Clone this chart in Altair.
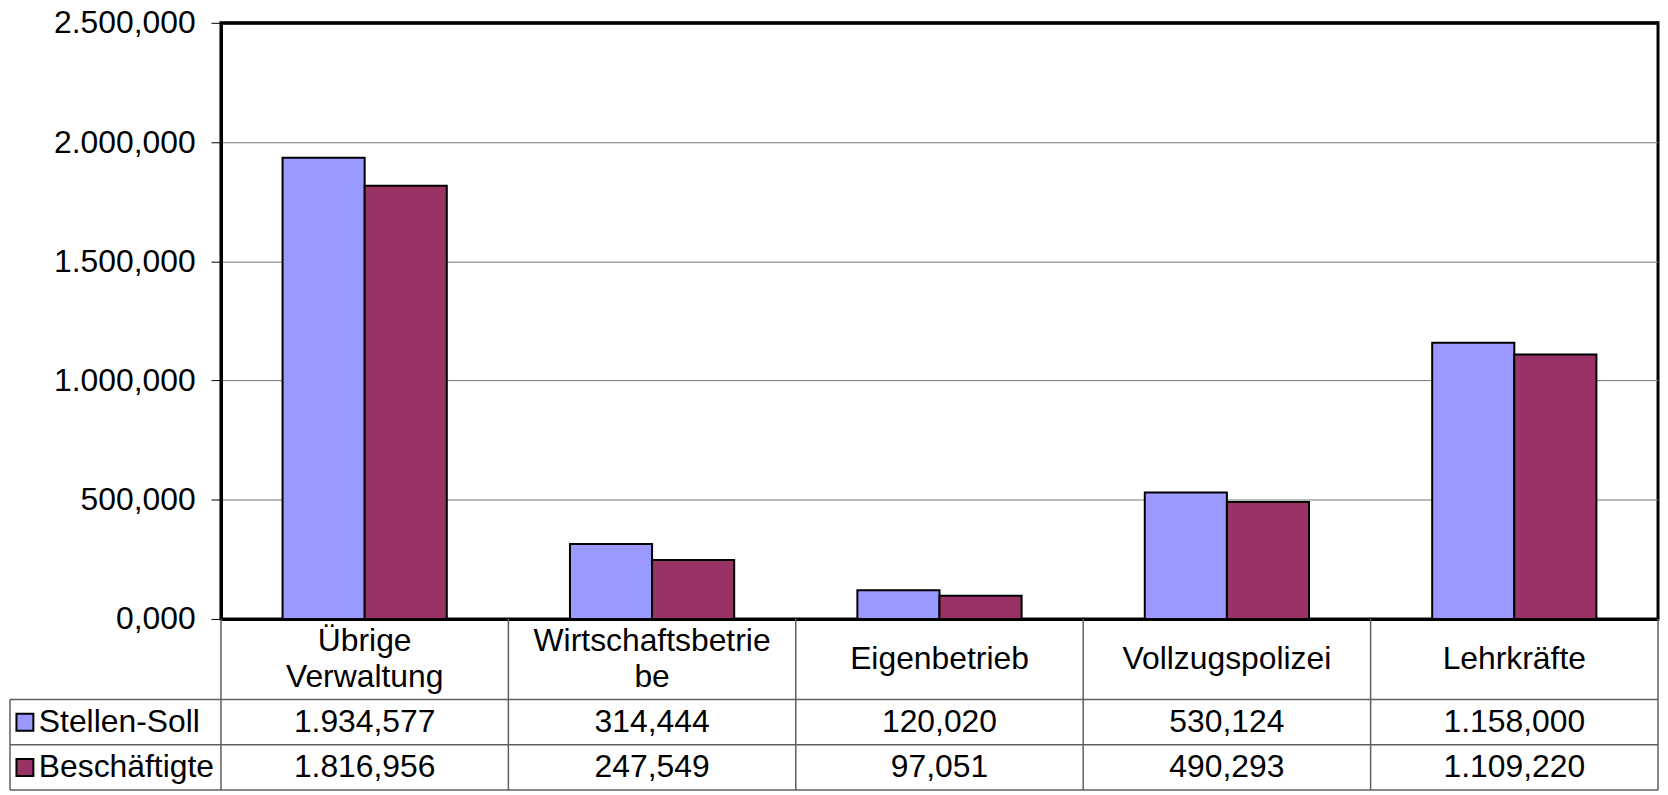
import altair as alt
import pandas as pd

# ---------------- data ----------------
categories = ["Übrige Verwaltung", "Wirtschaftsbetriebe", "Eigenbetrieb",
              "Vollzugspolizei", "Lehrkräfte"]
category_labels = ["Übrige\nVerwaltung", "Wirtschaftsbetrie\nbe", "Eigenbetrieb",
                   "Vollzugspolizei", "Lehrkräfte"]
series = ["Stellen-Soll", "Beschäftigte"]
stellen_soll = [1934.577, 314.444, 120.020, 530.124, 1158.000]
beschaeftigte = [1816.956, 247.549, 97.051, 490.293, 1109.220]
colors = ["#9999FF", "#993366"]
y_ticks = [0, 500, 1000, 1500, 2000, 2500]

# ---------------- layout constants ----------------
FONT = "Liberation Sans"
FS = 32
LH = 36
PLOT_W, PLOT_H = 1444, 599
LEG_W, TABLE_H = 212, 172
HEADER_H = 1.78            # header row height, in table-row units
ROWS_TOTAL = HEADER_H + 2
LINE = "#5f5f5f"
GRID = "#767676"

GER = "replace(replace(replace(format({v}, ',.3f'), ',', '_'), '.', ','), '_', '.')"

rows = []
for i, c in enumerate(categories):
    for s, vals in zip(series, [stellen_soll, beschaeftigte]):
        rows.append({"cat": c, "idx": i, "series": s, "value": vals[i],
                     "row": HEADER_H + 0.5 + series.index(s)})
df = pd.DataFrame(rows)

color_scale = alt.Scale(domain=series, range=colors)
edge_test = "datum.value == 0 || datum.value == 2500"

# ---------------- bar chart ----------------
bars = alt.Chart(df).mark_bar(stroke="black", strokeWidth=2).encode(
    x=alt.X("cat:N", sort=categories, axis=None,
            scale=alt.Scale(paddingInner=3 / 7, paddingOuter=1.5 / 7)),
    xOffset=alt.XOffset("series:N", sort=series,
                        scale=alt.Scale(paddingInner=0, paddingOuter=0)),
    y=alt.Y("value:Q", title=None,
            scale=alt.Scale(domain=[0, 2500], nice=False),
            axis=alt.Axis(values=y_ticks, labelExpr=GER.format(v="datum.value"),
                          labelFont=FONT, labelFontSize=FS, labelColor="black",
                          labelPadding=16, tickSize=10, tickColor="black", tickWidth=1,
                          domainColor="black", domainWidth=3,
                          gridColor={"condition": {"test": edge_test, "value": "black"},
                                     "value": GRID},
                          gridWidth={"condition": {"test": edge_test, "value": 3},
                                     "value": 1})),
    color=alt.Color("series:N", scale=color_scale, legend=None),
).properties(width=PLOT_W, height=PLOT_H,
             view=alt.ViewBackground(stroke="black", strokeWidth=3))

# ---------------- empty top-left cell ----------------
empty = alt.Chart(pd.DataFrame({"v": [0]})).mark_point(opacity=0).encode(
    x=alt.X("v:Q", axis=None), y=alt.Y("v:Q", axis=None)
).properties(width=LEG_W, height=PLOT_H)

ysc = alt.Scale(domain=[0, ROWS_TOTAL], reverse=True, nice=False, zero=False)

# ---------------- legend column of data table ----------------
leg_df = pd.DataFrame({"series": series,
                       "row": [HEADER_H + 0.5, HEADER_H + 1.5]})
leg_h = pd.DataFrame({"y": [HEADER_H, HEADER_H + 1, ROWS_TOTAL], "x": 0, "x2": 1})
leg_v = pd.DataFrame({"x": [0], "y": [HEADER_H], "y2": [ROWS_TOTAL]})
xl = alt.Scale(domain=[0, 1], nice=False, zero=False)

legend = alt.layer(
    alt.Chart(leg_h).mark_rule(color=LINE, strokeWidth=1.5).encode(
        x=alt.X("x:Q", scale=xl, axis=None), x2="x2:Q",
        y=alt.Y("y:Q", scale=ysc, axis=None)),
    alt.Chart(leg_v).mark_rule(color=LINE, strokeWidth=1.5).encode(
        x=alt.X("x:Q", scale=xl, axis=None),
        y=alt.Y("y:Q", scale=ysc, axis=None), y2="y2:Q"),
    alt.Chart(leg_df).mark_square(size=289, opacity=1, filled=True, stroke="black",
                                  strokeWidth=2, xOffset=15).encode(
        x=alt.value(0),
        y=alt.Y("row:Q", scale=ysc, axis=None),
        color=alt.Color("series:N", scale=color_scale, legend=None)),
    alt.Chart(leg_df).mark_text(align="left", baseline="middle", dx=29, font=FONT,
                                fontSize=FS, color="black").encode(
        x=alt.value(0),
        y=alt.Y("row:Q", scale=ysc, axis=None),
        text="series:N"),
).properties(width=LEG_W, height=TABLE_H)

# ---------------- data table ----------------
xt = alt.Scale(domain=[0, len(categories)], nice=False, zero=False)
tab_v = pd.DataFrame({"x": list(range(len(categories) + 1)), "y": 0.0, "y2": ROWS_TOTAL})
tab_h = pd.DataFrame({"y": [HEADER_H, HEADER_H + 1, ROWS_TOTAL], "x": 0,
                      "x2": len(categories)})
head_df = pd.DataFrame({"xc": [i + 0.5 for i in range(len(categories))],
                        "y": HEADER_H / 2, "label": category_labels,
                        "nlines": [lab.count("\n") + 1 for lab in category_labels]})
head_one = head_df[head_df["nlines"] == 1]
head_two = head_df[head_df["nlines"] == 2]


def header_layer(d, shift):
    return alt.Chart(d).mark_text(
        baseline="middle", align="center", lineBreak="\n", lineHeight=LH,
        dy=shift, font=FONT, fontSize=FS, color="black"
    ).encode(
        x=alt.X("xc:Q", scale=xt, axis=None),
        y=alt.Y("y:Q", scale=ysc, axis=None),
        text="label:N")


table = alt.layer(
    alt.Chart(tab_v).mark_rule(color=LINE, strokeWidth=1.5).encode(
        x=alt.X("x:Q", scale=xt, axis=None),
        y=alt.Y("y:Q", scale=ysc, axis=None), y2="y2:Q"),
    alt.Chart(tab_h).mark_rule(color=LINE, strokeWidth=1.5).encode(
        x=alt.X("x:Q", scale=xt, axis=None), x2="x2:Q",
        y=alt.Y("y:Q", scale=ysc, axis=None)),
    header_layer(head_one, 0),
    header_layer(head_two, -LH / 2),
    alt.Chart(df).transform_calculate(
        xc="datum.idx + 0.5", label=GER.format(v="datum.value")
    ).mark_text(baseline="middle", align="center", font=FONT, fontSize=FS,
                color="black").encode(
        x=alt.X("xc:Q", scale=xt, axis=None),
        y=alt.Y("row:Q", scale=ysc, axis=None),
        text="label:N"),
).properties(width=PLOT_W, height=TABLE_H)

chart = alt.concat(empty, bars, legend, table, columns=2, spacing=0,
                   bounds="flush", align="each").configure_view(
    stroke="transparent"
).properties(padding={"top": -5, "left": 0, "right": 0, "bottom": 0},
             background="white")

chart.save("out.html", embed_options={"renderer": "svg", "actions": False})
